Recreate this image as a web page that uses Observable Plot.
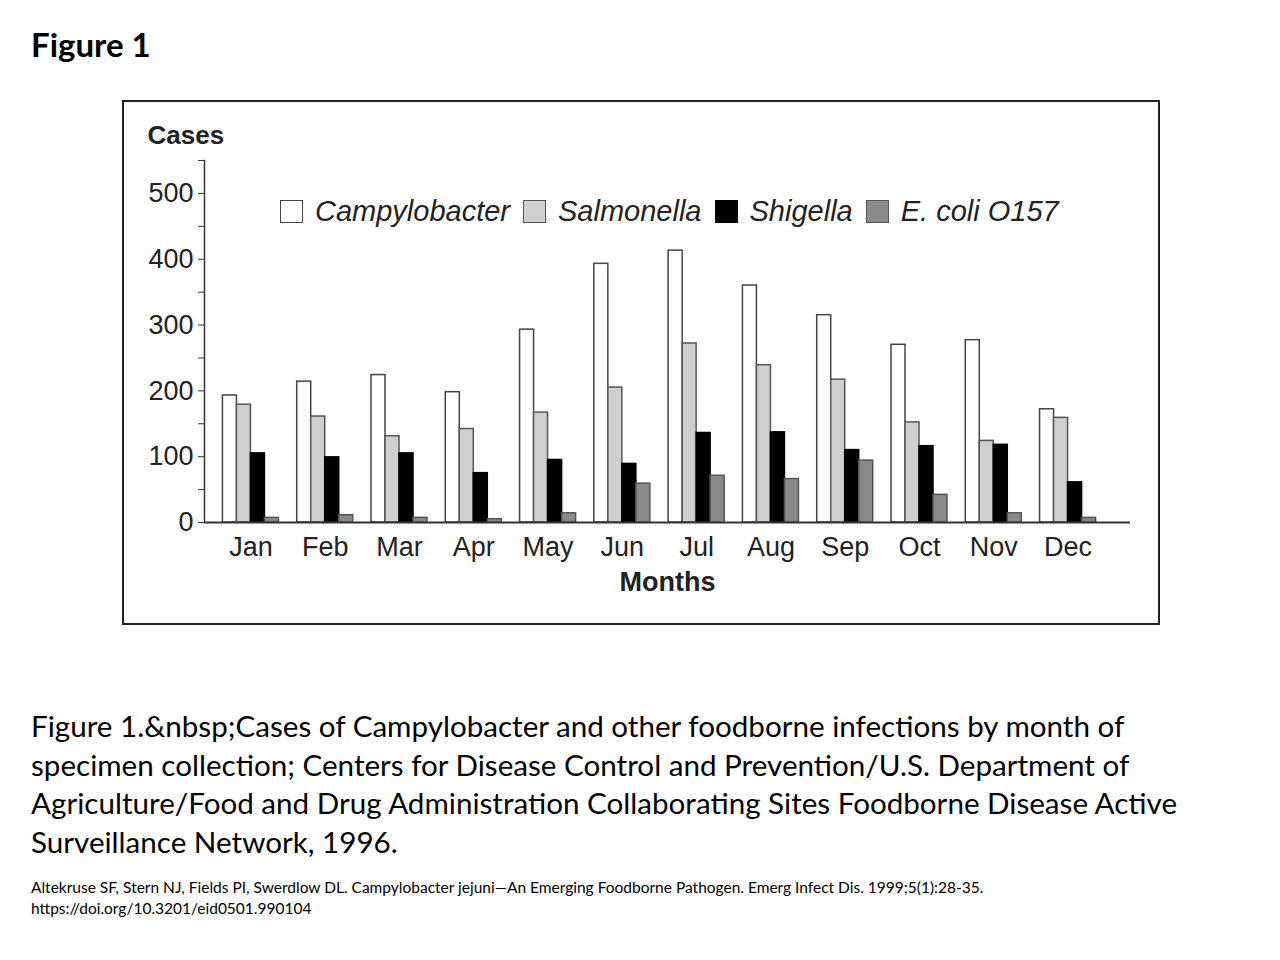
<!DOCTYPE html>
<html><head><meta charset="utf-8">
<script src="https://cdn.jsdelivr.net/npm/d3@7"></script>
<script src="https://cdn.jsdelivr.net/npm/@observablehq/plot@0.6"></script>
<style>
body{margin:0;background:#fff;width:1280px;height:960px;position:relative;overflow:hidden;font-family:Lato,"Open Sans",sans-serif;color:#000;}
#title{position:absolute;left:31px;top:24px;font-weight:bold;font-size:33px;white-space:nowrap;}
#box{position:absolute;left:122px;top:100px;width:1038px;height:525px;border:2px solid #222;box-sizing:border-box;}
#chart{position:absolute;left:0;top:0;}
#legend{position:absolute;left:156px;top:93px;display:flex;align-items:center;font-family:"Liberation Sans",Arial,sans-serif;font-style:italic;font-size:29px;color:#222;white-space:nowrap;}
.item{display:flex;align-items:center;margin-right:13px;}
.sw{width:21px;height:21px;border:1.5px solid #444;margin-right:12px;}
#caption{position:absolute;left:31px;top:707px;font-size:29.6px;line-height:38.5px;white-space:nowrap;}
#cite{position:absolute;left:31px;top:877px;font-size:15.5px;line-height:21px;white-space:nowrap;}
</style></head>
<body>
<div id="title">Figure 1</div>
<div id="box"><div id="chart"></div><div id="legend"></div></div>
<div id="caption">Figure 1.&amp;nbsp;Cases of Campylobacter and other foodborne infections by month of<br>specimen collection; Centers for Disease Control and Prevention/U.S. Department of<br>Agriculture/Food and Drug Administration Collaborating Sites Foodborne Disease Active<br>Surveillance Network, 1996.</div>
<div id="cite">Altekruse SF, Stern NJ, Fields PI, Swerdlow DL. Campylobacter jejuni—An Emerging Foodborne Pathogen. Emerg Infect Dis. 1999;5(1):28-35.<br>https://doi.org/10.3201/eid0501.990104</div>
<script>
const months = ["Jan","Feb","Mar","Apr","May","Jun","Jul","Aug","Sep","Oct","Nov","Dec"];
const seriesNames = ["Campylobacter","Salmonella","Shigella","E. coli O157"];
const campylobacter = [193,214,224,198,293,393,413,360,315,270,277,172];
const salmonella    = [179,161,131,142,167,205,272,239,217,152,124,159];
const shigella      = [105, 99,105, 75, 95, 89,136,137,110,116,118, 61];
const ecoli         = [  7, 11,  7,  5, 14, 59, 71, 66, 94, 42, 14,  7];
const yTicks = [0,50,100,150,200,250,300,350,400,450,500,550];
const fills = ["#ffffff","#cfcfcf","#000000","#8a8a8a"];
const strokes = ["#444444","#555555","#000000","#555555"];

const seriesValues = [campylobacter, salmonella, shigella, ecoli];
const rows = [];
seriesNames.forEach((s, i) => months.forEach((m, j) => rows.push({month: m, series: s, value: seriesValues[i][j]})));

const W = 1034, H = 521;
const xRange = [91, 979];
const padIn = 0.246, padOut = 0.1;
const step = (xRange[1] - xRange[0]) / (months.length - padIn + 2 * padOut);
const sub = step * (1 - padIn) / seriesNames.length;

const barMarks = seriesNames.map((s, i) => Plot.barY(rows.filter(r => r.series === s), {
  x: "month", y: "value", fill: fills[i], stroke: strokes[i], strokeWidth: 1.5,
  insetLeft: i * sub, insetRight: (seriesNames.length - 1 - i) * sub
}));

const plot = Plot.plot({
  width: W, height: H,
  marginLeft: 80, marginRight: 28, marginTop: 58, marginBottom: 101,
  style: {fontFamily: "'Liberation Sans', Arial, sans-serif", fontSize: "27px", color: "#222", background: "transparent", overflow: "visible"},
  x: {type: "band", domain: months, range: xRange, paddingInner: padIn, paddingOuter: padOut, round: false, label: null},
  y: {domain: [0, 550], label: null},
  marks: [
    ...barMarks,
    Plot.ruleY([0], {stroke: "#333", strokeWidth: 2}),
    Plot.frame({anchor: "left", stroke: "#333", strokeWidth: 1.5}),
    Plot.axisY(yTicks, {tickSize: 6, tickPadding: 5, stroke: "#333", tickFormat: d => d % 100 === 0 ? d : "", fontSize: 27, label: null}),
    Plot.axisX({tickSize: 0, tickPadding: 14, fontSize: 27, label: null}),
    Plot.text(["Cases"], {text: d => d, frameAnchor: "top-left", textAnchor: "start", dx: -57, dy: -35, fontWeight: "bold", fontSize: 26}),
    Plot.text(["Months"], {text: d => d, frameAnchor: "bottom", dy: 68, fontWeight: "bold", fontSize: 27})
  ]
});
document.getElementById("chart").appendChild(plot);

const legend = document.getElementById("legend");
seriesNames.forEach((s, i) => {
  const it = document.createElement("div"); it.className = "item";
  const sw = document.createElement("div"); sw.className = "sw";
  sw.style.background = fills[i]; sw.style.borderColor = strokes[i];
  const t = document.createElement("span"); t.textContent = s;
  it.appendChild(sw); it.appendChild(t); legend.appendChild(it);
});
</script>
</body></html>
